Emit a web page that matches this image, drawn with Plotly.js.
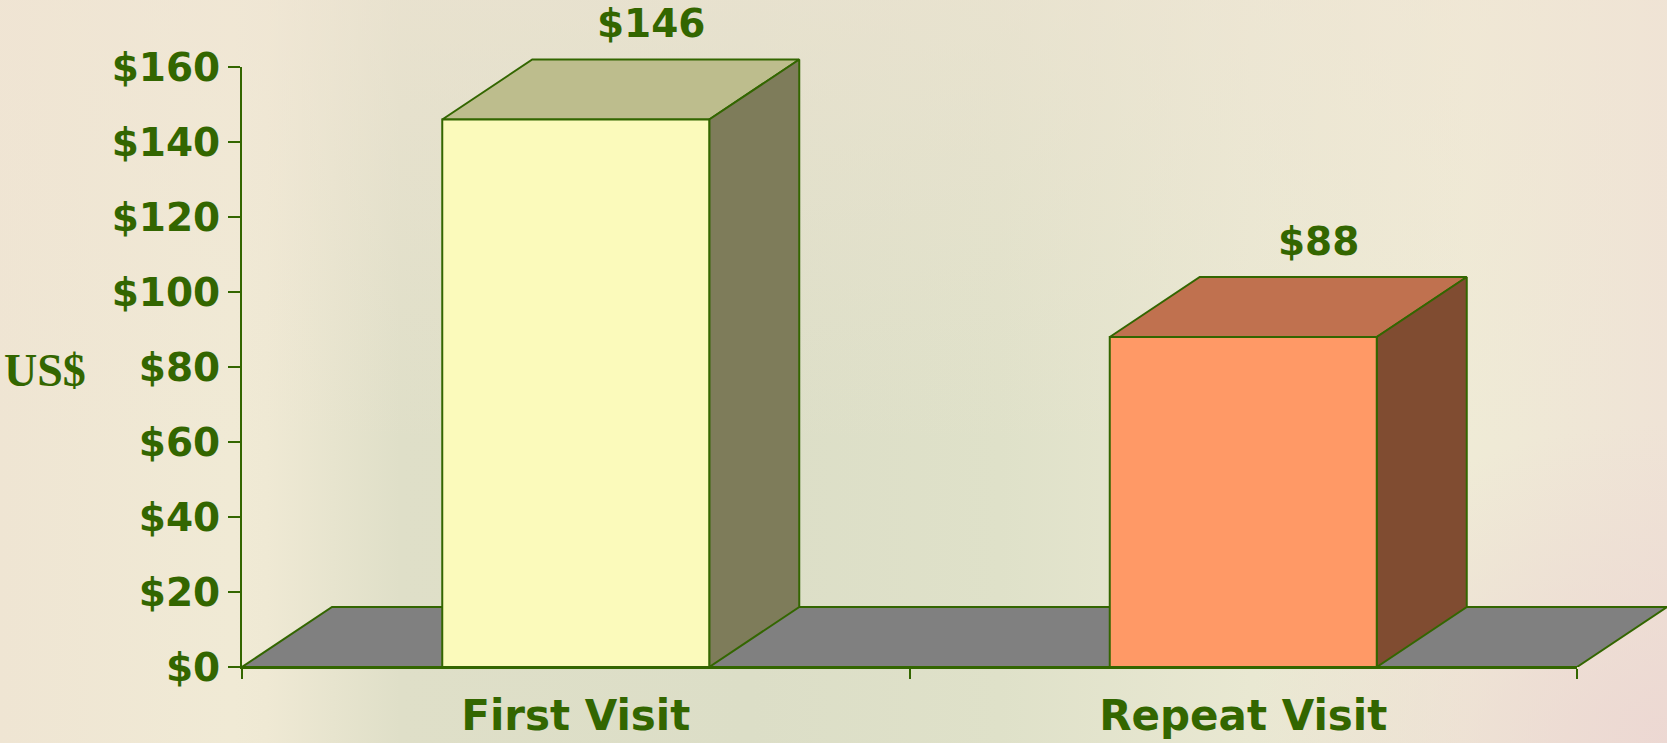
<!DOCTYPE html>
<html>
<head>
<meta charset="utf-8">
<script src="https://cdn.plot.ly/plotly-3.0.1.min.js"></script>
<style>
  html, body { margin: 0; padding: 0; width: 1667px; height: 743px; overflow: hidden; }
  body {
    background:
      radial-gradient(ellipse 420px 320px at 100% 100%, rgba(236,214,210,0.85), rgba(236,214,210,0) 100%),
      linear-gradient(180deg, rgba(240,228,212,0.55) 0%, rgba(242,240,216,0.0) 60%),
      linear-gradient(90deg, #efe5d3 0%, #f0ead5 14%, #efe9d4 16%, #dfdfc8 24%, #dcdec7 45%, #dfe1c9 60%, #e9e8d2 75%, #efebd6 88%, #efe3d6 100%);
  }
  #chart { width: 1667px; height: 743px; }
</style>
</head>
<body>
<div id="chart"></div>
<script>
// ---- data ----
const categories = ['First Visit', 'Repeat Visit'];
const values = [146, 88];
const valueLabels = ['$146', '$88'];
const yTickVals = [0, 20, 40, 60, 80, 100, 120, 140, 160];
const yTickText = ['$0', '$20', '$40', '$60', '$80', '$100', '$120', '$140', '$160'];
const frontColors = ['#FBFABB', '#FF9966'];
const topColors = ['#BDBD8D', '#C0714F'];
const sideColors = ['#7E7C5A', '#804C31'];

// ---- layout constants (pixels) ----
const W = 1667, H = 743;
const axLeft = 242, axRight = 1577, axBottom = 667, axTop = 67;
const yMax = 160;
const pxPerUnit = (axRight - axLeft) / 2;          // x: categories at 0,1, range -0.5..1.5
const pxPerDollar = (axBottom - axTop) / yMax;
const depthX = 90 / pxPerUnit;                     // 3D depth in data units
const depthY = 60 / pxPerDollar;
const barWidth = 0.4;
const green = '#336600';
const fontFam = 'DejaVu Sans, Arial, sans-serif';

const xPos = categories.map((c, i) => i);

const traces = [];
// top and side faces (extended geometry axes x / y)
values.forEach((v, i) => {
  const x0 = xPos[i] - barWidth / 2, x1 = xPos[i] + barWidth / 2;
  traces.push({
    type: 'scatter', mode: 'lines', fill: 'toself', xaxis: 'x', yaxis: 'y',
    x: [x0, x0 + depthX, x1 + depthX, x1, x0],
    y: [v, v + depthY, v + depthY, v, v],
    fillcolor: topColors[i], line: { color: green, width: 2 }, hoverinfo: 'skip'
  });
  traces.push({
    type: 'scatter', mode: 'lines', fill: 'toself', xaxis: 'x', yaxis: 'y',
    x: [x1, x1 + depthX, x1 + depthX, x1, x1],
    y: [0, depthY, v + depthY, v, 0],
    fillcolor: sideColors[i], line: { color: green, width: 2 }, hoverinfo: 'skip'
  });
});
// value labels
traces.push({
  type: 'scatter', mode: 'text', xaxis: 'x', yaxis: 'y',
  x: xPos.map(x => x + 0.113), y: values.map(v => v + 24.6),
  text: valueLabels, textposition: 'middle center', cliponaxis: false,
  textfont: { family: fontFam, size: 39, color: green, weight: 'bold' },
  hoverinfo: 'skip'
});
// front faces as bars on the visible axes (same pixel scale)
traces.push({
  type: 'bar', x: xPos, y: values, width: barWidth,
  xaxis: 'x2', yaxis: 'y2',
  marker: { color: frontColors, line: { color: green, width: 2 } },
  hoverinfo: 'skip'
});

const xMin = -0.5, xMaxVis = 1.5;
const layout = {
  width: W, height: H,
  margin: { l: 0, r: 0, t: 0, b: 0, pad: 0 },
  paper_bgcolor: 'rgba(0,0,0,0)', plot_bgcolor: 'rgba(0,0,0,0)',
  showlegend: false,
  // geometry axes (extended to hold the 3D depth)
  xaxis: {
    domain: [axLeft / W, 1], range: [xMin, xMin + (W - axLeft) / pxPerUnit],
    showline: false, showgrid: false, zeroline: false, ticks: '',
    tickvals: xPos, ticktext: categories, ticklabelstandoff: 20,
    tickfont: { family: fontFam, size: 42, color: green, weight: 'bold' },
    fixedrange: true
  },
  yaxis: {
    domain: [(H - axBottom) / H, 1], range: [0, axBottom / pxPerDollar],
    showline: false, showgrid: false, zeroline: false, showticklabels: false, ticks: '',
    fixedrange: true
  },
  // visible axes
  xaxis2: {
    domain: [axLeft / W, axRight / W], range: [xMin, xMaxVis], anchor: 'y2',
    showline: true, linecolor: green, linewidth: 2,
    tickvals: [-0.5, 0.5, 1.5], ticks: 'outside', ticklen: 10, tickwidth: 2, tickcolor: green,
    showticklabels: false, showgrid: false, zeroline: false, fixedrange: true
  },
  yaxis2: {
    domain: [(H - axBottom) / H, (H - axTop) / H], range: [0, yMax], anchor: 'x2',
    showline: true, linecolor: green, linewidth: 2,
    tickvals: yTickVals, ticktext: yTickText, ticks: 'outside', ticklen: 12, tickwidth: 2, tickcolor: green,
    tickfont: { family: fontFam, size: 39, color: green, weight: 'bold' },
    showgrid: false, zeroline: false, fixedrange: true
  },
  shapes: [{
    type: 'path', xref: 'x', yref: 'y', layer: 'below',
    path: 'M ' + xMin + ',0 L ' + xMaxVis + ',0 L ' + (xMaxVis + depthX) + ',' + depthY +
          ' L ' + (xMin + depthX) + ',' + depthY + ' Z',
    fillcolor: '#808080', line: { color: green, width: 2 }
  }],
  annotations: [{
    xref: 'paper', yref: 'paper', x: 45 / W, y: (H - 370) / H,
    text: 'US$', showarrow: false, xanchor: 'center', yanchor: 'middle',
    font: { family: 'Liberation Serif, Times New Roman, serif', size: 46, color: green, weight: 'bold' }
  }]
};

Plotly.newPlot('chart', traces, layout, { staticPlot: true, displayModeBar: false });
</script>
</body>
</html>
